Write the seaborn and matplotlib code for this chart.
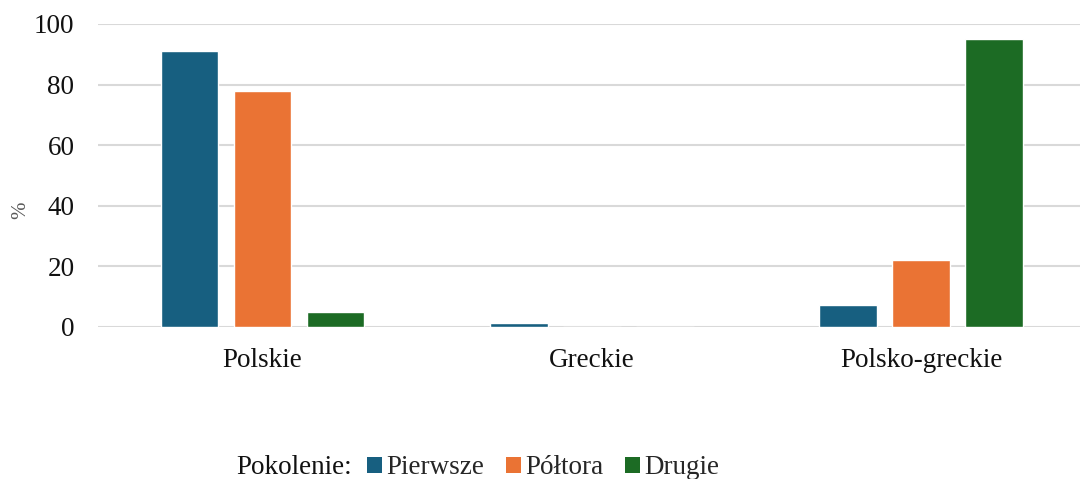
import matplotlib
matplotlib.use("Agg")
import matplotlib.pyplot as plt
import seaborn as sns
import pandas as pd
from matplotlib.patches import Patch

categories = ["Polskie", "Greckie", "Polsko-greckie"]
series = ["Pierwsze", "Półtora", "Drugie"]
pierwsze = [91, 1.3, 7.3]
poltora = [78, 0, 22]
drugie = [4.8, 0, 95]
colors = ["#175F80", "#EA7334", "#1C6B24"]
yticks = [0, 20, 40, 60, 80, 100]

rows = []
for s, vals in zip(series, [pierwsze, poltora, drugie]):
    for c, v in zip(categories, vals):
        rows.append({"cat": c, "gen": s, "val": v})
df = pd.DataFrame(rows)

sns.set_theme(style="white")
plt.rcParams["font.family"] = ["Liberation Serif", "DejaVu Serif"]

fig = plt.figure(figsize=(10.8, 4.79), dpi=100)
ax = fig.add_axes([98 / 1080, 1 - 327 / 479, 1 - 98 / 1080, (327 - 24) / 479])

sns.barplot(data=df, x="cat", y="val", hue="gen", order=categories,
            hue_order=series, palette=colors, width=0.665, gap=0.21,
            saturation=1, ax=ax, legend=False)

ax.set_ylim(0, 100)
ax.set_xlim(-0.5, 2.483)
ax.set_yticks(yticks)
ax.yaxis.grid(True, color="#D9D9D9", linewidth=1.5)
ax.set_axisbelow(True)
for sp in ax.spines.values():
    sp.set_visible(False)
ax.tick_params(axis="both", length=0, labelsize=19.5, colors="#111111")
ax.tick_params(axis="y", pad=17)
ax.tick_params(axis="x", pad=15)
ax.set_xlabel("")
ax.set_ylabel("%", fontsize=15, color="#595959")
ax.yaxis.set_label_coords((30 - 98) / 982, (327 - 210) / 303)

fig.text(236 / 1080, 1 - 468 / 479, "Pokolenie:", fontsize=19.5,
         va="center", ha="left", color="#111111")
handles = [Patch(facecolor=c, edgecolor="none") for c in colors]
fig.legend(handles, series, loc="center left",
           bbox_to_anchor=(367 / 1080, 1 - 468 / 479), ncol=3, frameon=False,
           fontsize=19.5, handlelength=0.55, handleheight=0.55, handletextpad=0.15,
           columnspacing=0.82, borderaxespad=0, borderpad=0)

fig.savefig("out.png", dpi=100)
